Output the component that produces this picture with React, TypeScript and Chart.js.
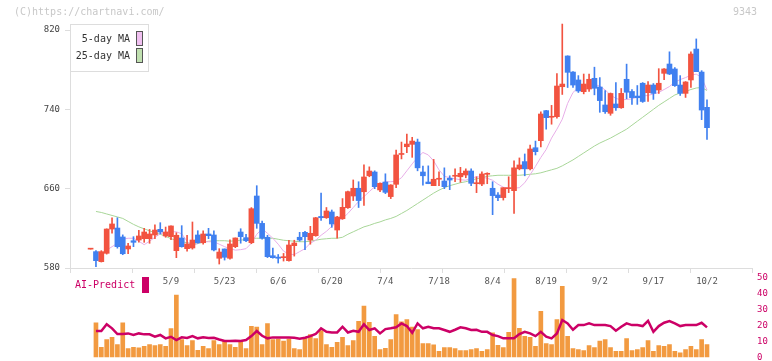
import React, { useEffect, useRef } from 'react';
import { Chart, registerables } from 'chart.js';
Chart.register(...registerables);

// ---- data ----
const DATES = [
  '4/15','4/16','4/17','4/18','4/21','4/22','4/23','4/24','4/25','4/28','4/30',
  '5/1','5/2','5/7','5/8','5/9','5/12','5/13','5/14','5/15','5/16','5/19','5/20','5/21','5/22','5/23',
  '5/26','5/27','5/28','5/29','5/30','6/2','6/3','6/4','6/5','6/6','6/9','6/10','6/11','6/12','6/13',
  '6/16','6/17','6/18','6/19','6/20','6/23','6/24','6/25','6/26','6/27','6/30','7/1','7/2','7/3','7/4',
  '7/7','7/8','7/9','7/10','7/11','7/14','7/15','7/16','7/17','7/18','7/22','7/23','7/24','7/25',
  '7/28','7/29','7/30','7/31','8/1','8/4','8/5','8/6','8/7','8/8','8/12','8/13','8/14','8/15','8/18','8/19',
  '8/20','8/21','8/22','8/25','8/26','8/27','8/28','8/29','9/1','9/2','9/3','9/4','9/5',
  '9/8','9/9','9/10','9/11','9/12','9/16','9/17','9/18','9/19','9/22','9/24','9/25','9/26',
  '9/29','9/30','10/1','10/2'
];

const OPEN = [
  599,596.5,586.4,594.8,619.3,620.3,611.3,599.2,607.5,608.2,609.6,609.6,613.3,619,612.3,611.6,
  597.5,610.3,599.5,600.2,613.3,605.5,614.3,613.3,589.8,599.2,589.8,601.5,616.3,610.6,605.5,
  652.6,625,611,592.4,591,590.4,587.4,602.5,611,616,608.2,612.6,632,630.7,636.5,618.3,629.7,
  640.8,652.6,660.4,656.9,673,676.8,658.7,666.7,652,664.4,694.5,702.3,704.7,707,676.8,666.7,
  663,669.5,667.7,670.5,672.5,672,673.8,677.8,665,664.7,674.5,660.4,653.6,651,660,658,680,
  687.3,680,701.3,708.4,738.7,732,732.6,762.8,793.8,777.6,769.6,757.8,760.5,771.3,762.5,744.4,
  736,745.4,741.6,770.3,758,753.4,766.3,756.8,764.5,759.5,776.3,785.7,780.7,764.5,756.1,769.6,
  800.8,777.6,742
];
const HIGH = [
  599,597.5,597.5,619.5,630.7,630.7,613.4,604.9,611.6,618,620,618.9,623.5,625.7,621.3,622.4,
  615.6,622.7,613,626.4,617.6,617.6,620,617.6,599.5,599.2,608.5,610.3,619.6,614,640.9,
  663,627.4,613,600,593.6,594.7,608,608,616,617,622,631,655.6,641,638.5,632,650,
  657.5,668.8,667,684,682,678,666,675,664,699,707,715,711.8,710,682.9,683,
  689.5,677,681,673,680,681.5,680,680,672,677,676,667,656,661,672,688,691,
  695,704,708,737.6,739,744,776,826,794,778,774,775.6,775.6,782.5,772,759,
  756.5,767,761,785.6,760,764,767,768,766,781,781,798,782,774,768,798,
  811,779,749.5
];
const LOW = [
  599,581.3,586,594,615,600,593.4,594.4,601.5,606,605.9,604.9,609.6,614.3,611,608.5,
  590.4,601,597,599,605,604,609.6,597.2,584,588,589,600.5,605,606.5,604.5,
  620,609,590.5,590,585,587,587,592,607,598.6,604,612,628,630,621,610,629,
  640,648,641,643,672,660,657,655,650,661,690,696.3,691.6,678,663.6,665,
  663,663,660,659,667,666.5,671,663,656,663,665,633.8,648,648.5,656,635,679,
  673,679,694,702,720,725,731,755,762,762,757,755.6,758,754.6,737,736,
  734,739,741,750.6,745,745,747,748,750,756,770,775,763,754,752,762,
  778,729.6,709.6
];
const CLOSE = [
  599,587.4,596.5,619.3,624.4,601.5,594.4,602.2,605.9,612.3,616.3,614.3,618.3,616.3,616.3,622.4,
  613,601.5,604.2,608.2,605.5,614.3,612.6,598.2,596.1,590.8,604.2,610.3,611.6,607.5,639.8,
  625,610,591.4,590.4,589.8,591,603.2,605.2,608.2,611.6,615,630.7,630.7,637.5,624.4,631.4,641.2,
  657,660.4,648,671.8,677.8,662,665.4,656.3,663.7,694,695,705,708,681,673,665,
  669.5,669.8,662,668.7,672.8,675.5,677.8,665.4,665.4,674.8,674.8,653,650.9,661,660.4,681,683.9,
  680,700,697.3,735.3,731.6,732.6,763.5,765.5,777.3,764.5,758.5,765.5,770.3,761.2,748.8,737.6,
  756,741.6,756.1,757.2,751.8,751.7,747.9,764.5,756.1,766.3,780.7,775.6,763.9,756.1,767.6,795.8,
  778,739.3,721.5
];

const MA5 = [
  null,null,null,598,601.5,605,609,610,610,607,603.5,607,611,614.5,616,616.6,
  616.5,614.5,607,602,605,606.5,606.5,606.5,604,601.5,599.5,598,598.5,599.5,605,
  614,619.5,615,610,604,597,594,593.5,596.5,599.5,605,608,613,617,622,626.5,630,
  635,641,647,652,657,662,665,667,667,667.5,671,678,685,691.5,696.5,694,
  688,679,672.5,671,670,669,668.5,670.5,672,671.5,670.5,668.5,664.5,661.5,660.5,660.5,661,
  666,674,682.5,691.5,699.5,711,720,730,746,757,762,763.5,764,765,763.5,759.5,
  754.5,751,749.5,750,750.5,752.5,753.5,754,755.5,757,760,763,767.5,770,772,774.5,
  775.5,772,759.5
];
const MA25 = [
  null,637,636,634.5,633,631.5,630,627,624,621.5,619.5,617.5,615.5,614,612,609.5,
  608,606.5,605.5,604.5,604.5,606,607,607.5,607.5,607.5,607,607.5,608,609,610,
  610,610,610,610,609,608,607.5,607,606.5,606.5,607,608,609,609.5,610,610,611,
  614,616.5,619,621.5,623,625,626.5,628.5,630,632,635,638,641.5,645,648.5,652,
  655.5,658.5,661,663,664.5,666,667,668.5,670,671,672.5,673,673.5,673.5,673.5,673.5,673.5,
  674,674.5,675,676,677.5,679,680.5,683,686,689,692.5,696,699.5,703,706,708.5,
  711,714,717,720,724,728,732,736,740,744,747.5,751,754.5,756.5,758,760,
  761.5,762,759
];

const VOLUME = [
  null,21.8,6.5,11.3,12.8,8.2,21.8,5.7,6.5,6.1,7.1,8.2,7.5,8.2,7.1,18.2,
  39.2,11.3,7.5,10.7,4.6,7.1,5.7,10.7,8.2,10.7,8.2,6.5,10.7,5.7,19.7,
  19.1,8.2,21.4,11.3,11.7,10.3,11.7,5.7,5.0,12.4,14.5,11.9,17,8.2,6.5,9.6,12.8,
  7.5,10.7,22.8,32.3,22.2,13.4,5.0,5.9,11.3,27,22.5,23.9,19.1,17.6,8.8,8.8,
  8.0,4.0,6.3,6.3,5.7,4.4,4.4,5.0,5.7,4.0,5.0,15.5,7.7,6.3,15.9,49.7,18.4,
  13.4,12.8,7.1,29.1,8.8,8.2,23.9,44.8,13.4,5.7,5.0,4.4,7.5,6.3,10.3,11.3,
  6.3,4.0,4.0,11.9,4.4,5.0,6.3,10.7,4.0,7.5,7.1,8.2,4.0,3.0,5.0,7.1,
  5.0,11.3,8.2
];
const AI_PREDICT = [
  null,16.7,16.7,21,18.4,14.8,14.8,15.2,14.2,15.2,14.6,14.6,13.1,14.2,12.1,13.1,
  11,12.7,12.3,13.5,12.1,12.7,12.3,12.5,11.4,10.4,10.4,10.6,10.4,11,13.5,
  16.7,13.7,12.1,12.7,12.7,12.7,12.7,12.5,11.9,12.5,13.5,14.8,18.4,16.2,15.8,15.8,19.4,
  15.8,16.9,16.2,20.9,17.3,18.4,15.2,17.9,18.4,19,21.5,19.8,15.6,21.5,18.4,19.4,
  18.4,18.4,17.3,16.2,17.5,19,18.4,17.3,17.5,16.2,16.2,14.2,13.5,12.1,12.1,12.1,14.8,
  16.2,15.2,13.5,16.2,13.1,12.1,15.2,23.6,21.5,17.5,20.4,20.4,21.5,20.4,20.4,20.4,
  19.8,16.9,19.4,21.5,20.4,20.4,19.8,23.1,16.2,19.8,21.9,23,21.5,19.8,20.4,20.4,
  20.4,21.9,19
];

const TICK_LABELS = ['5/9','5/23','6/6','6/20','7/4','7/18','8/4','8/19','9/2','9/17','10/2'];
const PRICE_TICKS = [580, 660, 740, 820];
const RIGHT_TICKS = [0, 10, 20, 30, 40, 50];

// ---- layout / style ----
const X_MIN = -3.843;
const X_MAX = 123.396;
const GRID_DIVISIONS = 11;
const RED = '#f25340';
const BLUE = '#4080f0';
const MONO = '"DejaVu Sans Mono", monospace';

export default function App() {
  const topRef = useRef<HTMLCanvasElement>(null);
  const botRef = useRef<HTMLCanvasElement>(null);

  useEffect(() => {
    const idx = DATES.map((_, i) => i);
    const colors = idx.map(i => (CLOSE[i] >= OPEN[i] ? RED : BLUE));
    const labelPos = new Map<number, string>();
    TICK_LABELS.forEach(l => labelPos.set(DATES.indexOf(l), l));
    const gridVals: number[] = [];
    for (let k = 0; k <= GRID_DIVISIONS; k++) gridVals.push(X_MIN + (X_MAX - X_MIN) * k / GRID_DIVISIONS);

    const top = new Chart(topRef.current!, {
      type: 'bar',
      data: {
        datasets: [
          {
            type: 'line', label: '25-day MA',
            data: idx.map(i => ({ x: i, y: MA25[i] })) as any,
            borderColor: '#a8d698', borderWidth: 1, pointRadius: 0, order: 4,
          },
          {
            type: 'line', label: '5-day MA',
            data: idx.map(i => ({ x: i, y: MA5[i] })) as any,
            borderColor: '#e8aee8', borderWidth: 1, pointRadius: 0, order: 3,
          },
          {
            type: 'bar', label: 'wick',
            data: idx.map(i => ({ x: i, y: [LOW[i], HIGH[i]] })) as any,
            backgroundColor: colors, barThickness: 1, grouped: false, order: 2, clip: false as any,
          },
          {
            type: 'bar', label: 'body',
            data: idx.map(i => ({ x: i, y: [OPEN[i], CLOSE[i]] })) as any,
            backgroundColor: colors, barThickness: 5, minBarLength: 1, grouped: false, order: 1,
          },
        ],
      },
      options: {
        animation: false,
        responsive: false,
        devicePixelRatio: 1,
        layout: { padding: { top: 30, right: 20, left: 0, bottom: 0 } },
        plugins: { legend: { display: false }, tooltip: { enabled: false } },
        scales: {
          x: {
            type: 'linear', min: X_MIN, max: X_MAX, offset: false,
            afterBuildTicks: (s: any) => {
              const t = [...gridVals, ...Array.from(labelPos.keys())].sort((a, b) => a - b);
              s.ticks = t.map(v => ({ value: v }));
            },
            ticks: {
              autoSkip: false, maxRotation: 0, padding: 3,
              font: { family: MONO, size: 9 }, color: '#555',
              callback: (v: any) => labelPos.get(v as number) ?? '',
            },
            grid: {
              offset: false, drawOnChartArea: false, tickLength: 5,
              color: (ctx: any) => (ctx.tick && labelPos.has(ctx.tick.value) ? 'rgba(0,0,0,0)' : '#dddddd'),
            },
            border: { color: '#dddddd' },
            afterFit: (s: any) => { s.height = 32; },
          },
          y: {
            position: 'left', min: 580, max: 820,
            afterBuildTicks: (s: any) => { s.ticks = PRICE_TICKS.map(v => ({ value: v })); },
            ticks: { font: { family: MONO, size: 9 }, color: '#444', padding: 5 },
            grid: { drawOnChartArea: false, tickLength: 5, color: '#dddddd' },
            border: { color: '#dddddd' },
            afterFit: (s: any) => { s.width = 70; },
          },
        },
      },
    });

    const bot = new Chart(botRef.current!, {
      type: 'bar',
      data: {
        datasets: [
          {
            type: 'line', label: 'AI-Predict',
            data: idx.map(i => ({ x: i, y: AI_PREDICT[i] })) as any,
            borderColor: '#cc0066', borderWidth: 2.5, pointRadius: 0, order: 1,
          },
          {
            type: 'bar', label: 'Volume',
            data: idx.map(i => ({ x: i, y: VOLUME[i] })) as any,
            backgroundColor: '#f29a40', barThickness: 4, order: 2,
          },
        ],
      },
      options: {
        animation: false,
        responsive: false,
        devicePixelRatio: 1,
        layout: { padding: { top: 8, right: 0, left: 70, bottom: 0 } },
        plugins: { legend: { display: false }, tooltip: { enabled: false } },
        scales: {
          x: { type: 'linear', min: X_MIN, max: X_MAX, offset: false, display: false },
          y: {
            position: 'right', min: 0, max: 50,
            afterBuildTicks: (s: any) => { s.ticks = RIGHT_TICKS.map(v => ({ value: v })); },
            ticks: { font: { family: MONO, size: 9 }, color: '#cc0066', padding: 0 },
            grid: { display: true, drawOnChartArea: false, drawTicks: true, tickLength: 5, color: 'rgba(0,0,0,0)' },
            border: { display: false },
            afterFit: (s: any) => { s.width = 20; },
          },
        },
      },
    });

    return () => { top.destroy(); bot.destroy(); };
  }, []);

  const txt: React.CSSProperties = { position: 'absolute', fontFamily: MONO, whiteSpace: 'pre' };

  return (
    <div style={{ position: 'absolute', left: 0, top: 0, width: 772, height: 361, background: '#fff', overflow: 'hidden' }}>
      <canvas ref={topRef} width={772} height={300} style={{ position: 'absolute', left: 0, top: 0 }} />
      <canvas ref={botRef} width={772} height={93} style={{ position: 'absolute', left: 0, top: 270 }} />
      <div style={{ ...txt, left: 14, top: 5, fontSize: 10, lineHeight: '14px', color: '#c8c8c8' }}>(C)https://chartnavi.com/</div>
      <div style={{ ...txt, left: 700, width: 57, textAlign: 'right', top: 5, fontSize: 10, lineHeight: '14px', color: '#c8c8c8' }}>9343</div>
      <div style={{ position: 'absolute', left: 70, top: 24, width: 77, height: 46, border: '1px solid #dddddd', background: '#fff' }} />
      <div style={{ ...txt, left: 60, width: 70, textAlign: 'right', top: 31, fontSize: 10, lineHeight: '15px', color: '#333' }}>5-day MA</div>
      <div style={{ ...txt, left: 60, width: 70, textAlign: 'right', top: 48, fontSize: 10, lineHeight: '15px', color: '#333' }}>25-day MA</div>
      <div style={{ position: 'absolute', left: 136, top: 31, width: 5, height: 13, border: '1px solid #555', background: '#f0c0f0' }} />
      <div style={{ position: 'absolute', left: 136, top: 48, width: 5, height: 13, border: '1px solid #555', background: '#c0e0b0' }} />
      <div style={{ ...txt, left: 75, top: 278, fontSize: 10, lineHeight: '14px', color: '#cc0066' }}>AI-Predict</div>
      <div style={{ position: 'absolute', left: 142, top: 277, width: 7, height: 16, background: '#cc0066' }} />
    </div>
  );
}
